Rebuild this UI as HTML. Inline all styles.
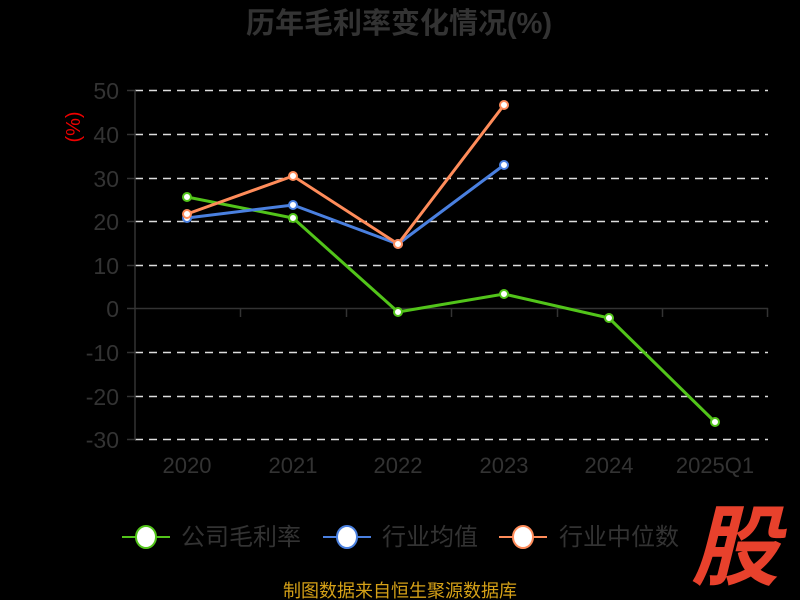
<!DOCTYPE html>
<html><head><meta charset="utf-8"><style>body{margin:0;background:#000}svg{display:block}</style></head><body>
<svg width="800" height="600" xmlns="http://www.w3.org/2000/svg" font-family="Liberation Sans, Noto Sans CJK SC, sans-serif">
<rect width="800" height="600" fill="#000"/>
<text x="399" y="33" text-anchor="middle" font-size="29" font-weight="bold" fill="#333">历年毛利率变化情况(%)</text>
<text transform="translate(80,127) rotate(-90)" text-anchor="middle" font-size="20" fill="#e00">(%)</text>
<g stroke="#ddd" stroke-width="1.5" stroke-dasharray="8,6">
<line x1="135" y1="90.5" x2="768" y2="90.5"/><line x1="135" y1="134.5" x2="768" y2="134.5"/><line x1="135" y1="178.5" x2="768" y2="178.5"/><line x1="135" y1="221.5" x2="768" y2="221.5"/><line x1="135" y1="265.5" x2="768" y2="265.5"/><line x1="135" y1="352.5" x2="768" y2="352.5"/><line x1="135" y1="396.5" x2="768" y2="396.5"/><line x1="135" y1="439.5" x2="768" y2="439.5"/>
</g>
<g stroke="#333" stroke-width="1.5">
<line x1="135" y1="90" x2="135" y2="440"/>
<line x1="127" y1="90.5" x2="135" y2="90.5"/><line x1="127" y1="134.5" x2="135" y2="134.5"/><line x1="127" y1="178.5" x2="135" y2="178.5"/><line x1="127" y1="221.5" x2="135" y2="221.5"/><line x1="127" y1="265.5" x2="135" y2="265.5"/><line x1="127" y1="308.5" x2="135" y2="308.5"/><line x1="127" y1="352.5" x2="135" y2="352.5"/><line x1="127" y1="396.5" x2="135" y2="396.5"/><line x1="127" y1="439.5" x2="135" y2="439.5"/>
<line x1="135" y1="308.5" x2="768" y2="308.5"/>
<line x1="240.5" y1="308" x2="240.5" y2="317"/><line x1="346.5" y1="308" x2="346.5" y2="317"/><line x1="451.5" y1="308" x2="451.5" y2="317"/><line x1="557.5" y1="308" x2="557.5" y2="317"/><line x1="662.5" y1="308" x2="662.5" y2="317"/><line x1="767.5" y1="308" x2="767.5" y2="317"/>
</g>
<g font-size="23" fill="#333" text-anchor="end">
<text x="119" y="99">50</text><text x="119" y="143">40</text><text x="119" y="187">30</text><text x="119" y="230">20</text><text x="119" y="274">10</text><text x="119" y="317">0</text><text x="119" y="361">-10</text><text x="119" y="405">-20</text><text x="119" y="448">-30</text>
</g>
<g font-size="22" fill="#333" text-anchor="middle">
<text x="187" y="473">2020</text><text x="293" y="473">2021</text><text x="398" y="473">2022</text><text x="504" y="473">2023</text><text x="609" y="473">2024</text><text x="715" y="473">2025Q1</text>
</g>
<g fill="#fff" stroke-width="2">
<polyline points="187,197 293,218 398,312 504,294 609,318 715,422" fill="none" stroke="#52c41a" stroke-width="3"/>
<polyline points="187,218 293,205 398,244 504,165" fill="none" stroke="#4a80e0" stroke-width="3"/>
<polyline points="187,214 293,176 398,244 504,105" fill="none" stroke="#ff8c5a" stroke-width="3"/>
<g stroke="#52c41a"><circle cx="187" cy="197" r="4"/><circle cx="293" cy="218" r="4"/><circle cx="398" cy="312" r="4"/><circle cx="504" cy="294" r="4"/><circle cx="609" cy="318" r="4"/><circle cx="715" cy="422" r="4"/></g>
<g stroke="#4a80e0"><circle cx="187" cy="218" r="4"/><circle cx="293" cy="205" r="4"/><circle cx="398" cy="244" r="4"/><circle cx="504" cy="165" r="4"/></g>
<g stroke="#ff8c5a"><circle cx="187" cy="214" r="4"/><circle cx="293" cy="176" r="4"/><circle cx="398" cy="244" r="4"/><circle cx="504" cy="105" r="4"/></g>
</g>
<g stroke-width="2">
<line x1="122" y1="537" x2="170" y2="537" stroke="#52c41a"/><ellipse cx="146" cy="537" rx="10" ry="11" fill="#fff" stroke="#52c41a"/>
<line x1="323" y1="537" x2="371" y2="537" stroke="#4a80e0"/><ellipse cx="347" cy="537" rx="10" ry="11" fill="#fff" stroke="#4a80e0"/>
<line x1="499" y1="537" x2="547" y2="537" stroke="#ff8c5a"/><ellipse cx="523" cy="537" rx="10" ry="11" fill="#fff" stroke="#ff8c5a"/>
</g>
<g font-size="24" fill="#333">
<text x="181" y="545">公司毛利率</text><text x="382" y="545">行业均值</text><text x="559" y="545">行业中位数</text>
</g>
<text x="400" y="597" text-anchor="middle" font-size="18" fill="#d4a017">制图数据来自恒生聚源数据库</text>
<text x="735" y="578" text-anchor="middle" font-size="88" font-weight="bold" font-style="italic" fill="#e8412c">股</text>
</svg>
</body></html>
